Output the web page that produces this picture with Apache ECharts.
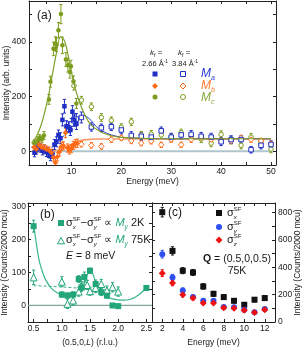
<!DOCTYPE html>
<html><head><meta charset="utf-8">
<script src="https://cdn.jsdelivr.net/npm/echarts@6/dist/echarts.min.js"></script>
<style>html,body{margin:0;padding:0;background:#fff}#c{width:304px;height:348px}</style>
</head><body><div id="c"></div>
<script>
// ---------- Panel (a) data ----------
var maFilledE = [2.6, 3.0, 3.4, 3.8, 4.2, 4.6, 5.0, 5.4, 5.8, 6.2, 6.6, 7.0, 7.4, 7.8, 8.2, 8.6, 9.0, 9.4, 9.8, 10.2, 10.6, 11.0];
var maFilledI = [-5, 5, 18, 12, 2, 8, -3, -8, -18, -10, 25, 35, 60, 48, 115, 165, 92, 88, 78, 145, 115, 100];
var maFilledErr = [15, 15, 16, 15, 15, 15, 16, 15, 16, 16, 18, 18, 18, 20, 22, 25, 20, 20, 20, 22, 22, 20];
var mbFilledE = [2.5, 3.0, 3.5, 4.0, 4.5, 5.0, 5.5, 6.0, 6.4, 6.8, 7.2, 7.6, 8.0, 8.4, 8.8, 9.2, 9.6, 10.0, 10.4, 10.8, 11.2];
var mbFilledI = [15, 8, 22, 15, 12, 8, 4, -5, -22, -42, -20, -2, 18, 20, 68, 12, 5, 10, 22, 28, 30];
var mbFilledErr = [12, 12, 12, 12, 12, 12, 12, 13, 14, 15, 15, 15, 15, 15, 18, 15, 15, 15, 15, 15, 15];
var mcFilledE = [2.6, 3.2, 3.6, 4.1, 4.5, 5.5, 5.8, 6.4, 6.8, 7.0, 7.4, 7.9, 8.2, 8.9, 9.3, 9.7, 9.9, 10.4, 11.0];
var mcFilledI = [30, 40, 50, 45, 58, 190, 255, 375, 394, 390, 443, 502, 388, 336, 315, 290, 311, 256, 175];
var mcFilledErr = [12, 12, 12, 12, 14, 18, 20, 25, 25, 25, 28, 35, 30, 25, 25, 22, 22, 20, 18];
var maOpenE = [10.0, 10.5, 11.0, 12.0, 14.0, 16.0, 18.0, 20.0, 22.0, 24.0, 26.0, 28.0, 30.0, 32.0, 34.0, 36.0, 38.0, 40.0, 42.0, 44.0, 46.0, 48.0, 50.0];
var maOpenI = [100, 112, 118, 124, 89, 86, 90, 78, 58, 55, 52, 75, 52, 60, 62, 55, 52, 35, 43, 43, 6, 22, 25];
var maOpenErr = [20, 20, 20, 20, 15, 14, 14, 14, 14, 14, 14, 14, 14, 14, 14, 14, 14, 14, 14, 14, 12, 13, 13];
var mbOpenE = [12, 14, 16, 18, 20, 22, 24, 26, 28, 30, 32, 34, 36, 38, 40, 42, 44, 46, 48, 50];
var mbOpenI = [26, 22, 18, 43, 49, 38, 30, 37, 24, 43, 24, 43, 50, 43, 38, 38, 49, 43, 38, 28];
var mbOpenErr = [10, 10, 10, 10, 10, 10, 10, 10, 10, 10, 10, 10, 10, 10, 10, 10, 10, 10, 10, 10];
var mcOpenE = [10.5, 12, 14, 16, 18, 20, 22, 24, 26, 28, 30, 32, 34, 36, 38, 40, 42, 44, 46, 48, 50];
var mcOpenI = [240, 187, 163, 124, 113, 88, 108, 60, 63, 60, 52, 68, 55, 45, 30, 62, 40, 22, 52, 34, 8];
var mcOpenErr = [16, 14, 14, 14, 13, 13, 13, 13, 13, 13, 13, 13, 13, 13, 13, 13, 13, 13, 13, 13, 13];
// fit curves (a)
var fitCE = [2, 3, 4, 5, 5.5, 6, 7, 7.8, 8.5, 9, 10, 11, 12, 13, 14, 16, 18, 20, 25, 30, 40, 50];
var fitCI = [30, 55, 100, 170, 211, 262, 360, 420, 408, 380, 290, 215, 162, 122, 95, 70, 57, 51, 47, 46, 46, 46];
var fitADashE = [2, 3, 4, 5, 6, 6.5, 7, 7.5, 8, 8.5, 9, 9.5, 10, 10.5];
var fitADashI = [15, 15, 14, 14, 15, 18, 24, 33, 45, 58, 70, 82, 95, 108];
var fitAE = [10.5, 11, 11.5, 12, 12.5, 13, 14, 15, 16, 18, 20, 22, 25, 30, 40, 50];
var fitAI = [108, 118, 126, 130, 132, 128, 112, 90, 76, 60, 52, 49, 47, 46, 46, 46];
var fitBE = [2, 3, 4, 5, 6, 7, 8, 9, 10, 11, 12, 13, 14, 16, 20, 30, 50];
var fitBI = [15, 12, 8, 4, 2, 3, 8, 16, 26, 35, 40, 43, 44, 45, 45, 45, 45];
var zeroAE = [2, 50];
var zeroAI = [0, 0];
var aXTicks = [5, 10, 15, 20, 25, 30, 35, 40, 45, 50];
var aXLabels = [10, 20, 30, 40, 50];
var aYTicks = [0, 100, 200, 300, 400, 500];
var aYLabels = [0, 200, 400];

// ---------- Panel (b) data ----------
var bL2K = [0.5, 1.0, 1.1, 1.2, 1.3, 1.35, 1.4, 1.5, 1.6, 1.7, 1.8, 1.9, 2.0, 2.5];
var bI2K = [240, 33, 30, 33, 80, 55, 86, 105, 65, 40, 30, 0, -2, 53];
var bErr2K = [18, 8, 8, 8, 10, 12, 15, 8, 12, 10, 8, 6, 6, 6];
var bL75 = [0.5, 1.0, 1.1, 1.2, 1.3, 1.35, 1.45, 1.5, 1.6, 1.7, 1.8, 1.9, 2.0];
var bI75 = [85, 72, 5, 15, 42, 58, 62, 43, 53, 65, 45, 55, 42];
var bErr75 = [22, 15, 14, 14, 14, 14, 14, 12, 14, 14, 14, 14, 14];
var bFitL = [0.5, 0.55, 0.6, 0.65, 0.7, 0.8, 0.9, 1.0, 1.1, 1.2, 1.3, 1.35, 1.4, 1.45, 1.5, 1.55, 1.6, 1.7, 1.8, 1.9, 2.0, 2.1, 2.2, 2.3, 2.4, 2.5];
var bFitI = [245, 185, 135, 105, 82, 55, 40, 33, 30, 30, 38, 48, 68, 92, 104, 95, 72, 42, 26, 20, 17, 16, 18, 25, 37, 53];
var bDashL = [0.5, 1.0, 1.5, 2.0];
var bDashI = [60, 56, 50, 45];
var bZeroL = [0.4, 2.6];
var bZeroI = [0, 0];
var bXTicks = [0.5, 0.75, 1.0, 1.25, 1.5, 1.75, 2.0, 2.25, 2.5];
var bXLabels = [0.5, 1.0, 1.5, 2.0, 2.5];
var bYTicks = [0, 50, 100, 150, 200, 250, 300];
var bYLabels = [0, 100, 200, 300];

// ---------- Panel (c) data ----------
var cE = [2, 3, 4, 5, 6, 7, 8, 9, 10, 11, 12];
var cX = [803, 520, 375, 362, 260, 206, 182, 155, 126, 163, 175];
var cXerr = [35, 30, 22, 22, 20, 18, 16, 16, 16, 16, 18];
var cY = [496, 326, 231, 183, 155, 155, 110, 108, 90, 72, 95];
var cYerr = [28, 22, 18, 14, 12, 12, 10, 10, 10, 10, 10];
var cZ = [357, 285, 199, 175, 139, 139, 105, 100, 85, 70, 90];
var cZerr = [25, 20, 16, 14, 12, 12, 10, 10, 10, 10, 10];
var cXTicks = [1, 2, 3, 4, 5, 6, 7, 8, 9, 10, 11, 12, 13];
var cXLabels = [2, 4, 6, 8, 10, 12];
var cYTicks = [0, 100, 200, 300, 400, 500, 600, 700, 800];
var cYLabels = [0, 200, 400, 600, 800];

// ---------- colours ----------
var BLUE = '#1f2fc4', ORANGE = '#ff6a14', GREEN = '#7b9c1c', TEAL = '#22a57a';
var FF = '"Liberation Sans", Arial, Helvetica, sans-serif';
var TXT = '#1a1a1a';

function pairs(xs, ys) { return xs.map(function (x, i) { return [x, ys[i]]; }); }
function triples(xs, ys, es) { return xs.map(function (x, i) { return [x, ys[i], es[i]]; }); }

function axis(o) {
  var base = {
    type: 'value', scale: false,
    axisLine: { show: true, onZero: false, lineStyle: { color: '#222', width: 1 } },
    axisTick: { show: true, inside: true, length: 3, lineStyle: { color: '#222', width: 1 } },
    axisLabel: { show: false },
    splitLine: { show: false },
    nameMoveOverlap: false,
    nameTextStyle: { fontFamily: FF, fontSize: 8.5, color: TXT }
  };
  for (var k in o) base[k] = o[k];
  return base;
}
function lab(vals, margin, fmt) {
  var o = { show: true, customValues: vals, margin: margin, fontFamily: FF, fontSize: 8.5, color: TXT };
  if (fmt) o.formatter = fmt;
  return o;
}
function tick(vals) { return { show: true, inside: true, length: 3, customValues: vals, lineStyle: { color: '#222', width: 1 } }; }

var xAxis = [
  axis({ gridIndex: 0, position: 'bottom', min: 1.5, max: 51, axisTick: tick(aXTicks), axisLabel: lab(aXLabels, 2),
    name: 'Energy (meV)', nameLocation: 'middle', nameGap: 12 }),
  axis({ gridIndex: 0, position: 'top', min: 1.5, max: 51, axisTick: tick(aXTicks) }),
  axis({ gridIndex: 1, position: 'bottom', min: 0.4, max: 2.6, axisTick: tick(bXTicks), axisLabel: lab(bXLabels, 2, function (v) { return v.toFixed(1); }),
    name: '(0.5,0,{i|L}) (r.l.u.)', nameLocation: 'middle', nameGap: 16,
    nameTextStyle: { fontFamily: FF, fontSize: 8.5, color: TXT, rich: { i: { fontStyle: 'italic', fontFamily: FF, fontSize: 8.5, color: TXT } } } }),
  axis({ gridIndex: 1, position: 'top', min: 0.4, max: 2.6, axisTick: tick(bXTicks) }),
  axis({ gridIndex: 2, position: 'bottom', min: 1, max: 13, axisTick: tick(cXTicks), axisLabel: lab(cXLabels, 2),
    name: 'Energy (meV)', nameLocation: 'middle', nameGap: 16 }),
  axis({ gridIndex: 2, position: 'top', min: 1, max: 13, axisTick: tick(cXTicks) })
];
var yAxis = [
  axis({ gridIndex: 0, position: 'left', min: -50, max: 550, axisTick: tick(aYTicks), axisLabel: lab(aYLabels, 3),
    name: 'Intensity (arb. units)', nameLocation: 'middle', nameGap: 18 }),
  axis({ gridIndex: 0, position: 'right', min: -50, max: 550, axisTick: tick(aYTicks) }),
  axis({ gridIndex: 1, position: 'left', min: -50, max: 310, axisTick: tick(bYTicks), axisLabel: lab(bYLabels, 2),
    name: 'Intensity (Counts/2000 mcu)', nameLocation: 'middle', nameGap: 19 }),
  axis({ gridIndex: 1, position: 'right', min: -50, max: 310, axisTick: tick(bYTicks) }),
  axis({ gridIndex: 2, position: 'right', min: 0, max: 870, axisTick: tick(cYTicks), axisLabel: lab(cYLabels, 3),
    name: 'Intensity (Counts/2000 mcu)', nameLocation: 'middle', nameGap: 18 }),
  axis({ gridIndex: 2, position: 'left', min: 0, max: 870, axisTick: tick(cYTicks) })
];

var series = [];
function errBars(xi, data, color) {
  series.push({
    type: 'custom', xAxisIndex: xi, yAxisIndex: xi, data: data, silent: true, clip: true, z: 3,
    encode: { x: 0, y: 1 },
    renderItem: function (params, api) {
      var x = api.value(0), y = api.value(1), e = api.value(2);
      var p1 = api.coord([x, y + e]), p2 = api.coord([x, y - e]);
      var c = 1.6, st = { stroke: color, lineWidth: 1 };
      return { type: 'group', children: [
        { type: 'line', shape: { x1: p1[0], y1: p1[1], x2: p2[0], y2: p2[1] }, style: st },
        { type: 'line', shape: { x1: p1[0] - c, y1: p1[1], x2: p1[0] + c, y2: p1[1] }, style: st },
        { type: 'line', shape: { x1: p2[0] - c, y1: p2[1], x2: p2[0] + c, y2: p2[1] }, style: st }
      ] };
    }
  });
}
function scat(xi, data, symbol, size, color, open) {
  series.push({
    type: 'scatter', xAxisIndex: xi, yAxisIndex: xi, data: data, symbol: symbol, symbolSize: size, z: 4, silent: true,
    itemStyle: open ? { color: '#fff', borderColor: color, borderWidth: 1, opacity: 1 } : { color: color, opacity: 1 }
  });
}
function line(xi, data, color, width, dashed, z) {
  series.push({
    type: 'line', xAxisIndex: xi, yAxisIndex: xi, data: data, smooth: 0.3, showSymbol: false, symbol: 'none', silent: true, z: z || 2,
    lineStyle: { color: color, width: width, type: dashed ? [3, 2] : 'solid' }
  });
}

// panel a
line(0, pairs(zeroAE, zeroAI), '#aec6cc', 2, false, 1);
line(0, pairs(fitBE, fitBI), '#f89a6a', 1.6, false, 2);
line(0, pairs(fitADashE, fitADashI), '#3344cc', 1, true, 2);
line(0, pairs(fitAE, fitAI), '#3344cc', 1, false, 2);
line(0, pairs(fitCE, fitCI), '#7f9f2a', 1.2, false, 5);
errBars(0, triples(mcOpenE, mcOpenI, mcOpenErr), GREEN);
scat(0, pairs(mcOpenE, mcOpenI), 'circle', 4.5, GREEN, true);
errBars(0, triples(mbOpenE, mbOpenI, mbOpenErr), ORANGE);
scat(0, pairs(mbOpenE, mbOpenI), 'diamond', 5.5, ORANGE, true);
errBars(0, triples(maOpenE, maOpenI, maOpenErr), BLUE);
scat(0, pairs(maOpenE, maOpenI), 'rect', 4.5, BLUE, true);
errBars(0, triples(mcFilledE, mcFilledI, mcFilledErr), GREEN);
scat(0, pairs(mcFilledE, mcFilledI), 'circle', 4.5, GREEN, false);
errBars(0, triples(maFilledE, maFilledI, maFilledErr), BLUE);
scat(0, pairs(maFilledE, maFilledI), 'rect', 4.5, BLUE, false);
errBars(0, triples(mbFilledE, mbFilledI, mbFilledErr), ORANGE);
scat(0, pairs(mbFilledE, mbFilledI), 'diamond', 5.5, ORANGE, false);

// panel b
line(2, pairs(bZeroL, bZeroI), '#7fa69d', 1.2, false, 1);
line(2, pairs(bFitL, bFitI), '#3ab58a', 1.2, false, 2);
line(2, pairs(bDashL, bDashI), '#3ab58a', 1, true, 2);
errBars(2, triples(bL75, bI75, bErr75), TEAL);
scat(2, pairs(bL75, bI75), 'triangle', 7, TEAL, true);
errBars(2, triples(bL2K, bI2K, bErr2K), TEAL);
scat(2, pairs(bL2K, bI2K), 'rect', 6, TEAL, false);

// panel c
errBars(4, triples(cE, cX, cXerr), '#111');
scat(4, pairs(cE, cX), 'rect', 6, '#111', false);
errBars(4, triples(cE, cY, cYerr), '#2f50f0');
scat(4, pairs(cE, cY), 'circle', 6, '#2f50f0', false);
errBars(4, triples(cE, cZ, cZerr), '#ee1111');
scat(4, pairs(cE, cZ), 'diamond', 7, '#ee1111', false);

// ---------- annotation helpers ----------
var mctx = document.createElement('canvas').getContext('2d');
function fnt(fs, it, b) { return (it ? 'italic ' : '') + (b ? 'bold ' : '') + fs + 'px ' + FF; }
function tw(t, fs, it, b) { mctx.font = fnt(fs, it, b); return mctx.measureText(t).width; }
function seq(x, y, parts) {
  var out = [], cx = x, pend = 0;
  parts.forEach(function (p) {
    var w = tw(p.t, p.fs, p.it, p.b);
    out.push({ type: 'text', x: cx, y: y + (p.dy || 0), z: 100,
      style: { text: p.t, font: fnt(p.fs, p.it, p.b), fill: p.c || TXT, textAlign: 'left', textVerticalAlign: 'middle' } });
    if (p.stack) { pend = Math.max(pend, w); } else { cx += Math.max(w, pend); pend = 0; }
  });
  return out;
}
function mk(shape, cx, cy, s, color, open) {
  var st = open ? { fill: '#fff', stroke: color, lineWidth: 1 } : { fill: color };
  var h = s / 2;
  if (shape === 'rect') return { type: 'rect', z: 100, shape: { x: cx - h, y: cy - h, width: s, height: s }, style: st };
  if (shape === 'circle') return { type: 'circle', z: 100, shape: { cx: cx, cy: cy, r: h }, style: st };
  if (shape === 'diamond') return { type: 'polygon', z: 100, shape: { points: [[cx, cy - h], [cx + h, cy], [cx, cy + h], [cx - h, cy]] }, style: st };
  return { type: 'polygon', z: 100, shape: { points: [[cx, cy - h], [cx + h, cy + h * 0.8], [cx - h, cy + h * 0.8]] }, style: st };
}

var g = [];
function add(a) { g = g.concat(a); }
// panel labels
add(seq(37, 16, [{ t: '(a)', fs: 12 }]));
add(seq(40, 215, [{ t: '(b)', fs: 12 }]));
add(seq(168, 213, [{ t: '(c)', fs: 12 }]));
// (a) legend
add(seq(150, 53, [{ t: 'k', fs: 8, it: true }, { t: 'f', fs: 5.5, dy: 2 }, { t: ' =', fs: 8 }]));
add(seq(142, 64, [{ t: '2.66 Å', fs: 7.5 }, { t: '-1', fs: 5, dy: -2.5 }]));
add(seq(178, 53, [{ t: 'k', fs: 8, it: true }, { t: 'f', fs: 5.5, dy: 2 }, { t: ' =', fs: 8 }]));
add(seq(172, 64, [{ t: '3.84 Å', fs: 7.5 }, { t: '-1', fs: 5, dy: -2.5 }]));
g.push(mk('rect', 155, 74, 5, BLUE, false));
g.push(mk('rect', 183, 74, 5, BLUE, true));
g.push(mk('diamond', 155, 86, 6, ORANGE, false));
g.push(mk('diamond', 183, 86, 6, ORANGE, true));
g.push(mk('circle', 155, 97, 5, GREEN, false));
g.push(mk('circle', 183, 97, 5, GREEN, true));
add(seq(201, 74, [{ t: 'M', fs: 12, it: true, c: '#2a3ad8' }, { t: 'a', fs: 7, it: true, dy: 4, c: '#2a3ad8' }]));
add(seq(201, 86, [{ t: 'M', fs: 12, it: true, c: '#ff7a30' }, { t: 'b', fs: 7, it: true, dy: 4, c: '#ff7a30' }]));
add(seq(201, 98, [{ t: 'M', fs: 12, it: true, c: '#8aa83a' }, { t: 'c', fs: 7, it: true, dy: 4, c: '#8aa83a' }]));
// (b) legend
function sig(sub) { return [{ t: 'σ', fs: 11 }, { t: 'SF', fs: 6, dy: -4, stack: true }, { t: sub, fs: 6, it: true, dy: 4 }]; }
function bLine(y, tail) {
  return seq(66, y, [].concat(sig('x'), [{ t: '−', fs: 11 }], sig('y'),
    [{ t: ' ∝ ', fs: 11 }, { t: 'M', fs: 11, it: true, c: TEAL }, { t: 'y', fs: 6.5, it: true, dy: 4, c: TEAL }, { t: tail, fs: 11 }]));
}
g.push(mk('rect', 61, 223, 6, TEAL, false));
add(bLine(223, ' 2K'));
g.push(mk('triangle', 61, 241, 7, TEAL, true));
add(bLine(240, ' 75K'));
add(seq(66, 256, [{ t: 'E', fs: 10.5, it: true }, { t: ' = 8 meV', fs: 10.5 }]));
// (c) legend
g.push(mk('rect', 219, 213, 6, '#111', false));
add(seq(227, 213, sig('x')));
g.push(mk('circle', 219, 227, 6, '#2f50f0', false));
add(seq(227, 227, sig('y')));
g.push(mk('diamond', 219, 240, 7, '#ee1111', false));
add(seq(227, 240, sig('z')));
add(seq(203, 259, [{ t: 'Q', fs: 10.5, b: true }, { t: ' = (0.5,0,0.5)', fs: 10.5 }]));
g.push({ type: 'text', x: 237, y: 271, z: 100, style: { text: '75K', font: fnt(10.5), fill: TXT, textAlign: 'center', textVerticalAlign: 'middle' } });

var chart = echarts.init(document.getElementById('c'), null, { renderer: 'canvas' });
chart.setOption({
  animation: false,
  backgroundColor: '#fff',
  grid: [
    { left: 29, top: 1, width: 247, height: 164, outerBoundsMode: 'none', containLabel: false },
    { left: 28, top: 203, width: 124, height: 119, outerBoundsMode: 'none', containLabel: false },
    { left: 152, top: 203, width: 123, height: 119, outerBoundsMode: 'none', containLabel: false }
  ],
  xAxis: xAxis,
  yAxis: yAxis,
  series: series,
  graphic: { elements: g }
});
</script></body></html>
